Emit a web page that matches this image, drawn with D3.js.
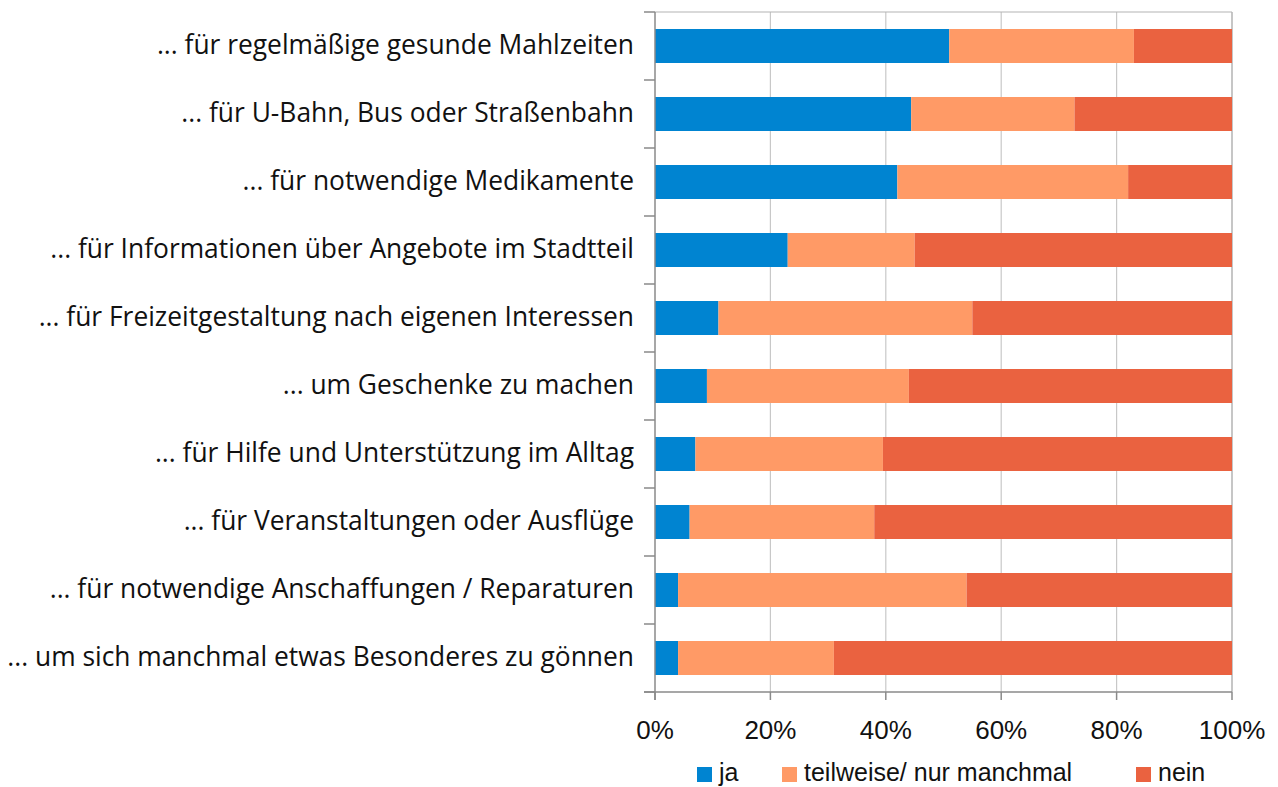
<!DOCTYPE html>
<html>
<head>
<meta charset="utf-8">
<script src="https://cdn.jsdelivr.net/npm/d3@7"></script>
<style>
  body { margin: 0; background: #fff; }
  svg { display: block; }
</style>
</head>
<body>
<svg id="chart" width="1278" height="787"></svg>
<script>
// data (percent)
var categories = [
  "... für regelmäßige gesunde Mahlzeiten",
  "... für U-Bahn, Bus oder Straßenbahn",
  "... für notwendige Medikamente",
  "... für Informationen über Angebote im Stadtteil",
  "... für Freizeitgestaltung nach eigenen Interessen",
  "... um Geschenke zu machen",
  "... für Hilfe und Unterstützung im Alltag",
  "... für Veranstaltungen oder Ausflüge",
  "... für notwendige Anschaffungen / Reparaturen",
  "... um sich manchmal etwas Besonderes zu gönnen"
];
var ja =        [51, 44.4, 42, 23, 11, 9, 7, 6, 4, 4];
var teilweise = [32, 28.3, 40, 22, 44, 35, 32.5, 32, 50, 27];
var nein =      [17, 27.3, 18, 55, 45, 56, 60.5, 62, 46, 69];
var seriesNames = ["ja", "teilweise/ nur manchmal", "nein"];
var seriesColors = ["#0084d1", "#ff9a66", "#ea6240"];
var xTicks = [0, 20, 40, 60, 80, 100];

var svg = d3.select("#chart");
var m = { left: 655, right: 1232, top: 12, bottom: 692 };

var x = d3.scaleLinear().domain([0, 100]).range([m.left, m.right]);
var y = d3.scaleBand().domain(categories).range([m.top, m.bottom]).paddingInner(0.5).paddingOuter(0.25);

// rows for the stack
var rows = categories.map((c, i) => ({ cat: c, ja: ja[i], teil: teilweise[i], nein: nein[i] }));
var layers = d3.stack().keys(["ja", "teil", "nein"])(rows);

// vertical grid lines
svg.append("g").selectAll("line")
  .data(xTicks.slice(1, -1))
  .join("line")
  .attr("x1", d => x(d)).attr("x2", d => x(d))
  .attr("y1", m.top).attr("y2", m.bottom)
  .attr("stroke", "#c8c8c8").attr("stroke-width", 1.2);

// frame top + right
svg.append("line").attr("x1", m.left).attr("x2", m.right).attr("y1", m.top).attr("y2", m.top)
  .attr("stroke", "#b3b3b3").attr("stroke-width", 1.2);
svg.append("line").attr("x1", m.right).attr("x2", m.right).attr("y1", m.top).attr("y2", m.bottom)
  .attr("stroke", "#b3b3b3").attr("stroke-width", 1.5);

// bars
svg.append("g").selectAll("g")
  .data(layers)
  .join("g")
  .attr("fill", (d, i) => seriesColors[i])
  .selectAll("rect")
  .data(d => d)
  .join("rect")
  .attr("x", d => x(d[0]))
  .attr("width", d => x(d[1]) - x(d[0]))
  .attr("y", d => y(d.data.cat))
  .attr("height", y.bandwidth());

// left axis: line + ticks at band boundaries
var bounds = d3.range(categories.length + 1).map(i => m.top + i * (m.bottom - m.top) / categories.length);
svg.append("g").selectAll("line")
  .data(bounds)
  .join("line")
  .attr("x1", m.left - 11).attr("x2", m.left)
  .attr("y1", d => d).attr("y2", d => d)
  .attr("stroke", "#8a8a8a").attr("stroke-width", 1.5);
svg.append("line").attr("x1", m.left).attr("x2", m.left).attr("y1", m.top).attr("y2", m.bottom + 8)
  .attr("stroke", "#8a8a8a").attr("stroke-width", 1.5);

// bottom axis
svg.append("line").attr("x1", m.left - 11).attr("x2", m.right).attr("y1", m.bottom).attr("y2", m.bottom)
  .attr("stroke", "#8a8a8a").attr("stroke-width", 1.5);
svg.append("g").selectAll("line")
  .data(xTicks)
  .join("line")
  .attr("x1", d => x(d)).attr("x2", d => x(d))
  .attr("y1", m.bottom).attr("y2", m.bottom + 8)
  .attr("stroke", "#8a8a8a").attr("stroke-width", 1.5);
svg.append("g").selectAll("text")
  .data(xTicks)
  .join("text")
  .attr("x", d => x(d)).attr("y", 739)
  .attr("text-anchor", "middle")
  .attr("font-family", "Liberation Sans, Arial, sans-serif")
  .attr("font-size", 26)
  .attr("fill", "#111")
  .text(d => d + "%");

// category labels, font sized so the longest one spans like the original
var labels = svg.append("g").selectAll("text")
  .data(categories)
  .join("text")
  .attr("x", m.left - 21)
  .attr("y", d => y(d) + y.bandwidth() / 2 + 8)
  .attr("text-anchor", "end")
  .attr("font-family", "Open Sans, Noto Sans, sans-serif")
  .attr("font-size", 22)
  .attr("fill", "#111")
  .text(d => d);
var longest = d3.max(labels.nodes(), n => n.getComputedTextLength());
labels.attr("font-size", 22 * 627 / longest);

// legend
var legendX = [697, 782, 1136];
var lg = svg.append("g").selectAll("g")
  .data(seriesNames)
  .join("g")
  .attr("transform", (d, i) => `translate(${legendX[i]},767)`);
lg.append("rect").attr("width", 15).attr("height", 15).attr("fill", (d, i) => seriesColors[i]);
lg.append("text")
  .attr("x", 22).attr("y", 14)
  .attr("font-family", "Liberation Sans, Arial, sans-serif")
  .attr("font-size", 25)
  .attr("fill", "#111")
  .text(d => d);
</script>
</body>
</html>
